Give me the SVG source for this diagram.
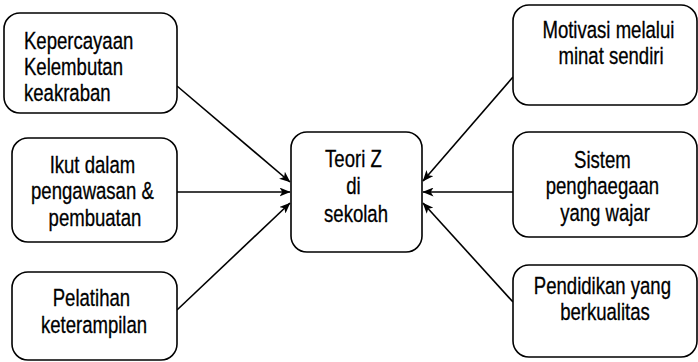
<svg xmlns="http://www.w3.org/2000/svg" width="698" height="362" viewBox="0 0 698 362">
  <defs>
    <marker id="arrow" viewBox="0 0 11 9" refX="10.5" refY="4.5" markerWidth="11" markerHeight="9" markerUnits="userSpaceOnUse" orient="auto">
      <path d="M0,0 L11,4.5 L0,9 L2.8,4.5 Z" fill="#000"/>
    </marker>
  </defs>
  <style>
    .box { fill: #fff; stroke: #000; stroke-width: 1.6; }
    .lbl { font-family: "Liberation Sans", Arial, sans-serif; font-size: 23.5px; fill: #000; stroke: #000; stroke-width: 0.3; }
    .mid { text-anchor: middle; }
    .edge { fill: none; stroke: #000; stroke-width: 1.6; marker-end: url(#arrow); }
  </style>

  <g id="edges">
    <line class="edge" x1="177" y1="86" x2="290" y2="182"/>
    <line class="edge" x1="177" y1="192" x2="290" y2="192"/>
    <line class="edge" x1="177" y1="310" x2="290" y2="203"/>
    <line class="edge" x1="513" y1="77" x2="423" y2="181"/>
    <line class="edge" x1="513" y1="192" x2="423" y2="192"/>
    <line class="edge" x1="513" y1="302" x2="423" y2="203"/>
  </g>

  <g id="kepercayaan">
    <rect class="box" x="4" y="13" width="173" height="100" rx="16"/>
    <text class="lbl" transform="matrix(0.79 0 0 1 24 49)">
      <tspan x="0" y="0">Kepercayaan</tspan>
      <tspan x="0" y="26">Kelembutan</tspan>
      <tspan x="0" y="52">keakraban</tspan>
    </text>
  </g>

  <g id="ikut-dalam">
    <rect class="box" x="12" y="138" width="165" height="104" rx="16"/>
    <text class="lbl mid" transform="matrix(0.79 0 0 1 95 173)">
      <tspan x="0" y="0">Ikut dalam</tspan>
      <tspan x="0" y="26.5">pengawasan &amp;</tspan>
      <tspan x="0" y="53">pembuatan</tspan>
    </text>
  </g>

  <g id="pelatihan">
    <rect class="box" x="12" y="272" width="165" height="88" rx="16"/>
    <text class="lbl mid" transform="matrix(0.79 0 0 1 94 306)">
      <tspan x="0" y="0">Pelatihan</tspan>
      <tspan x="0" y="27">keterampilan</tspan>
    </text>
  </g>

  <g id="teori-z">
    <rect class="box" x="291" y="132" width="131" height="120" rx="16"/>
    <text class="lbl mid" transform="matrix(0.79 0 0 1 356 167)">
      <tspan x="0" y="0">Teori Z</tspan>
      <tspan x="0" y="27.5">di</tspan>
      <tspan x="0" y="55">sekolah</tspan>
    </text>
  </g>

  <g id="motivasi">
    <rect class="box" x="513" y="5" width="184" height="100" rx="16"/>
    <text class="lbl mid" transform="matrix(0.79 0 0 1 611 38)">
      <tspan x="0" y="0">Motivasi melalui</tspan>
      <tspan x="0" y="26.5">minat sendiri</tspan>
    </text>
  </g>

  <g id="sistem">
    <rect class="box" x="513" y="132" width="184" height="105" rx="16"/>
    <text class="lbl mid" transform="matrix(0.79 0 0 1 605 168)">
      <tspan x="0" y="0">Sistem</tspan>
      <tspan x="0" y="26.5">penghaegaan</tspan>
      <tspan x="0" y="53">yang wajar</tspan>
    </text>
  </g>

  <g id="pendidikan">
    <rect class="box" x="513" y="265" width="184" height="92" rx="16"/>
    <text class="lbl mid" transform="matrix(0.79 0 0 1 605 294)">
      <tspan x="0" y="0">Pendidikan yang</tspan>
      <tspan x="0" y="26">berkualitas</tspan>
    </text>
  </g>
</svg>
